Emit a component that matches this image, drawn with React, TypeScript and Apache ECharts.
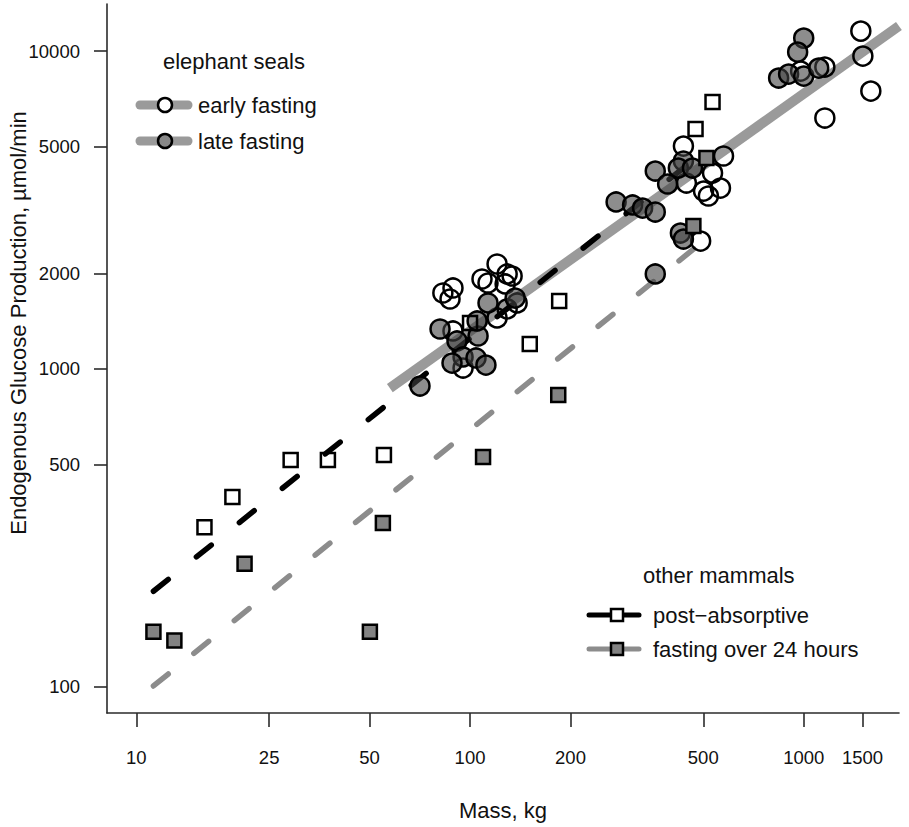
import React, { useEffect, useRef } from "react";
import * as echarts from "echarts";

// ---- data (mass in kg, endogenous glucose production in µmol/min) ----
const xTicks = [10, 25, 50, 100, 200, 500, 1000, 1500];
const yTicks = [100, 500, 1000, 2000, 5000, 10000];
const xRange = [8.166, 1930];
const yRange = [82.8, 14060];

const earlyFasting: number[][] = [
  [82.9, 1734], [88.9, 1798], [87.1, 1660], [120.5, 2139], [108.6, 1919], [113.2, 1864],
  [129.2, 1990], [133.7, 1961], [127.4, 1851], [138.4, 1613], [129.2, 1545], [120.5, 1447],
  [88.9, 1317], [95.3, 1007],
  [436, 5026], [575, 4676], [533, 4134], [445, 3845], [563, 3708], [501, 3628], [518, 3500],
  [491, 2526],
  [1483, 11557], [1504, 9645], [1589, 7485], [1157, 6157], [1157, 8906], [979, 8651],
];

const lateFasting: number[][] = [
  [81.3, 1336], [91.4, 1225], [105.7, 1270], [95.3, 1091], [104.2, 1083], [88.3, 1044],
  [111.6, 1029], [113.2, 1613], [136.5, 1672], [70.8, 884], [105, 1416],
  [436, 4510], [421, 4286], [464, 4286], [359, 4194], [391, 3818], [274, 3352], [307, 3280],
  [329, 3208], [359, 3117], [427, 2677], [436, 2563], [359, 1990],
  [1000, 10986], [959, 9928], [841, 8225], [901, 8466], [1000, 8344], [1109, 8841],
];

const postAbsorptive: number[][] = [
  [16, 318], [19.4, 396], [29, 517], [37.5, 517], [55.2, 536], [100, 1395], [151, 1198],
  [185, 1636], [474, 5685], [533, 6911],
];

const fasting24h: number[][] = [
  [11.25, 149], [13, 140], [21.1, 244], [50.1, 149], [54.8, 328], [109.4, 529], [183.8, 828],
  [467, 2816], [511, 4608],
];

const sealFit: number[][] = [[57.5, 871], [1929, 11985]];
const postAbsorptiveFit: number[][] = [[11.25, 200], [518, 4955]];
const fasting24hFit: number[][] = [[11.25, 100.7], [518, 2600]];

const lg = (v: number) => Math.log10(v);
const toLog = (arr: number[][]) => arr.map(([m, v]) => [lg(m), lg(v)]);

const FONT = "'Liberation Sans', Arial, Helvetica, sans-serif";
const TXT = "#111";
const AXIS = "#2b2b2b";

export default function App() {
  const ref = useRef<HTMLDivElement>(null);

  useEffect(() => {
    document.body.style.margin = "0";
    if (!ref.current) return;
    const chart = echarts.init(ref.current, undefined, { renderer: "svg" });

    const fmt = (v: number) => String(Math.round(Math.pow(10, v)));

    const legendText = (text: string, x: number, y: number) => ({
      type: "text",
      silent: true,
      style: {
        text,
        x,
        y,
        fill: TXT,
        font: `22px ${FONT}`,
        textVerticalAlign: "middle",
        verticalAlign: "middle",
      },
    });

    const option: any = {
      animation: false,
      textStyle: { fontFamily: FONT },
      grid: { left: 107, right: 10, top: 4, bottom: 114, containLabel: false },
      xAxis: {
        type: "value",
        min: lg(xRange[0]),
        max: lg(xRange[1]),
        name: "Mass, kg",
        nameLocation: "middle",
        nameGap: 86,
        nameTextStyle: { fontSize: 22, color: TXT, fontFamily: FONT },
        splitLine: { show: false },
        axisLine: { show: true, lineStyle: { color: AXIS, width: 1.6 } },
        axisTick: {
          show: true,
          length: 14,
          inside: false,
          customValues: xTicks.map(lg),
          lineStyle: { color: AXIS, width: 1.6 },
        },
        axisLabel: {
          customValues: xTicks.map(lg),
          formatter: fmt,
          fontSize: 18.5,
          color: TXT,
          margin: 35,
          fontFamily: FONT,
          hideOverlap: false,
        },
      },
      yAxis: {
        type: "value",
        min: lg(yRange[0]),
        max: lg(yRange[1]),
        splitLine: { show: false },
        axisLine: { show: true, lineStyle: { color: AXIS, width: 1.6 } },
        axisTick: {
          show: true,
          length: 13,
          inside: false,
          customValues: yTicks.map(lg),
          lineStyle: { color: AXIS, width: 1.6 },
        },
        axisLabel: {
          customValues: yTicks.map(lg),
          formatter: fmt,
          fontSize: 18.5,
          color: TXT,
          margin: 27,
          fontFamily: FONT,
          hideOverlap: false,
        },
      },
      series: [
        {
          name: "elephant seals fit",
          type: "line",
          data: toLog(sealFit),
          symbol: "none",
          silent: true,
          z: 1,
          lineStyle: { color: "#9a9a9a", width: 10, cap: "butt" },
        },
        {
          name: "post-absorptive fit",
          type: "line",
          data: toLog(postAbsorptiveFit),
          symbol: "none",
          silent: true,
          z: 1,
          lineStyle: { color: "#000", width: 5.5, type: [19, 36], cap: "round" },
        },
        {
          name: "fasting over 24 hours fit",
          type: "line",
          data: toLog(fasting24hFit),
          symbol: "none",
          silent: true,
          z: 1,
          lineStyle: { color: "#8c8c8c", width: 5.5, type: [19, 33], cap: "round" },
        },
        {
          name: "early fasting",
          type: "scatter",
          data: toLog(earlyFasting),
          symbol: "circle",
          symbolSize: 19,
          silent: true,
          z: 3,
          itemStyle: { color: "rgba(255,255,255,0)", borderColor: "#000", borderWidth: 2.5, opacity: 1 },
        },
        {
          name: "late fasting",
          type: "scatter",
          data: toLog(lateFasting),
          symbol: "circle",
          symbolSize: 19,
          silent: true,
          z: 3,
          itemStyle: { color: "rgba(65,65,65,0.6)", borderColor: "#000", borderWidth: 2.5, opacity: 1 },
        },
        {
          name: "post−absorptive",
          type: "scatter",
          data: toLog(postAbsorptive),
          symbol: "rect",
          symbolSize: 14,
          silent: true,
          z: 4,
          itemStyle: { color: "rgba(255,255,255,0)", borderColor: "#000", borderWidth: 2.5, opacity: 1 },
        },
        {
          name: "fasting over 24 hours",
          type: "scatter",
          data: toLog(fasting24h),
          symbol: "rect",
          symbolSize: 14,
          silent: true,
          z: 4,
          itemStyle: { color: "#828282", borderColor: "#000", borderWidth: 2.5, opacity: 1 },
        },
      ],
      graphic: [
        {
          type: "text",
          silent: true,
          x: 18,
          y: 323,
          rotation: Math.PI / 2,
          style: {
            text: "Endogenous Glucose Production, µmol/min",
            x: 0,
            y: 0,
            fill: TXT,
            font: `22px ${FONT}`,
            textAlign: "center",
            align: "center",
            textVerticalAlign: "middle",
            verticalAlign: "middle",
          },
        },
        // elephant seals legend
        legendText("elephant seals", 163, 61),
        { type: "line", silent: true, shape: { x1: 140, y1: 105, x2: 188, y2: 105 }, style: { stroke: "#9a9a9a", lineWidth: 9, lineCap: "round" } },
        { type: "circle", silent: true, shape: { cx: 165, cy: 105, r: 7 }, style: { fill: "#fff", stroke: "#000", lineWidth: 2.5 } },
        legendText("early fasting", 198, 105),
        { type: "line", silent: true, shape: { x1: 140, y1: 141, x2: 188, y2: 141 }, style: { stroke: "#9a9a9a", lineWidth: 9, lineCap: "round" } },
        { type: "circle", silent: true, shape: { cx: 165, cy: 141, r: 7 }, style: { fill: "#888", stroke: "#000", lineWidth: 2.5 } },
        legendText("late fasting", 198, 141),
        // other mammals legend
        legendText("other mammals", 643, 575),
        { type: "line", silent: true, shape: { x1: 589, y1: 615, x2: 639, y2: 615 }, style: { stroke: "#000", lineWidth: 5, lineCap: "round" } },
        { type: "rect", silent: true, shape: { x: 611, y: 609, width: 12, height: 12 }, style: { fill: "#fff", stroke: "#000", lineWidth: 2.5 } },
        legendText("post−absorptive", 653, 615),
        { type: "line", silent: true, shape: { x1: 589, y1: 649, x2: 639, y2: 649 }, style: { stroke: "#8c8c8c", lineWidth: 5, lineCap: "round" } },
        { type: "rect", silent: true, shape: { x: 611, y: 643, width: 12, height: 12 }, style: { fill: "#828282", stroke: "#000", lineWidth: 2.5 } },
        legendText("fasting over 24 hours", 653, 649),
      ],
    };

    chart.setOption(option);
    return () => chart.dispose();
  }, []);

  return <div ref={ref} style={{ width: 909, height: 827 }} />;
}
